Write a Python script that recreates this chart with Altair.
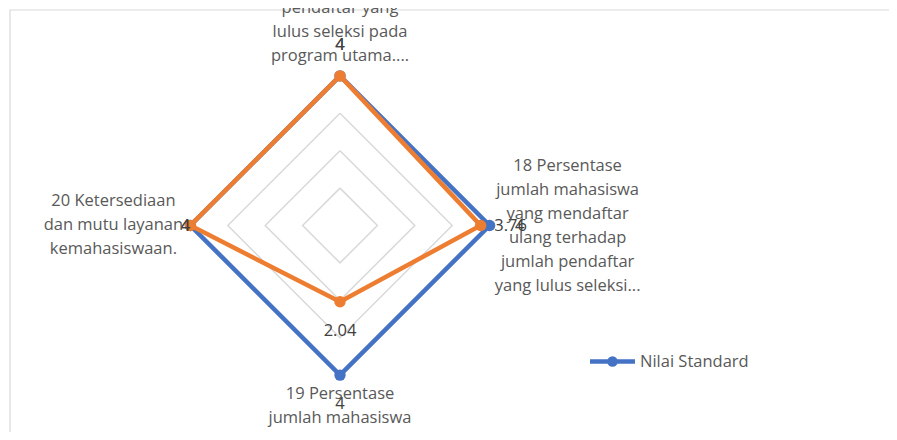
import altair as alt
import pandas as pd

# ---------------- data ----------------
categories = [
    "pendaftar yang\nlulus seleksi pada\nprogram utama....",
    "18 Persentase\njumlah mahasiswa\nyang mendaftar\nulang terhadap\njumlah pendaftar\nyang lulus seleksi...",
    "19 Persentase\njumlah mahasiswa\nasing terhadap",
    "20 Ketersediaan\ndan mutu layanan\nkemahasiswaan.",
]
series_names = ["Nilai Standard", "Nilai Capaian"]
nilai_standard = [4, 4, 4, 4]
nilai_capaian = [4, 3.76, 2.04, 4]
grid_levels = [1, 2, 3, 4]

BLUE = "#4472C4"
ORANGE = "#ED7D31"
FONT = "Open Sans"

# ---------------- tables built from the arrays ----------------
n = len(categories)
rows = []
for name, vals in zip(series_names, [nilai_standard, nilai_capaian]):
    for k in range(n + 1):
        rows.append({"series": name, "i": k % n, "o": k, "v": vals[k % n],
                     "lab": vals[k % n], "closing": k == n})
df_series = pd.DataFrame(rows)

grid_rows = []
for lv in grid_levels:
    for k in range(n + 1):
        grid_rows.append({"level": lv, "i": k % n, "o": k, "v": lv})
df_grid = pd.DataFrame(grid_rows)

df_cat = pd.DataFrame({"i": list(range(n)), "txt": categories, "v": [grid_levels[-1]] * n})
df_legend = pd.DataFrame({"series": [series_names[0]]})

# ---------------- layout ----------------
W, H = 881, 424
K = 37.4            # px per unit
CX, CY = 332, 217.5  # centre in chart pixels
xdom = [-CX / K, (W - CX) / K]
ydom = [-(H - CY) / K, CY / K]

xs = alt.Scale(domain=xdom, nice=False, zero=False)
ys = alt.Scale(domain=ydom, nice=False, zero=False)

def polar(ch):
    return ch.transform_calculate(
        px="datum.v * sin(datum.i * PI / 2)",
        py="datum.v * cos(datum.i * PI / 2)",
    )

X = alt.X("px:Q", scale=xs, axis=None)
Y = alt.Y("py:Q", scale=ys, axis=None)

# frame
frame = alt.Chart(df_legend).mark_rect(fill=None, stroke="#d9d9d9", strokeWidth=1.2).encode(
    x=alt.value(2), x2=alt.value(1200), y=alt.value(2), y2=alt.value(431)
)

grid = polar(alt.Chart(df_grid)).mark_line(color="#d9d9d9", strokeWidth=1.5).encode(
    x=X, y=Y, detail="level:N", order="o:Q"
)

layers = [frame, grid]
for name, col in zip(series_names, [BLUE, ORANGE]):
    base = polar(alt.Chart(df_series)).transform_filter(alt.datum.series == name)
    layers.append(base.mark_line(color=col, strokeWidth=4.5).encode(x=X, y=Y, order="o:Q"))
    layers.append(base.transform_filter("!datum.closing").mark_point(
        filled=True, color=col, opacity=1, size=130, shape="circle").encode(x=X, y=Y))

# data labels
offsets = {0: dict(dy=-30.5), 1: dict(dx=30), 2: dict(dy=29), 3: dict(dx=-5)}
for idx, off in offsets.items():
    lab = polar(alt.Chart(df_series)).transform_filter(
        f"datum.i == {idx} && !datum.closing"
    ).transform_calculate(t="toString(datum.lab)")
    layers.append(lab.mark_text(font=FONT, fontSize=16.5, color="#404040",
                                align="center", baseline="middle", **off).encode(
        x=X, y=Y, text="t:N"))

# category labels (offset places the first line)
cat_off = {0: dict(dy=-67.5), 1: dict(dx=78, dy=-59.5), 2: dict(dy=19), 3: dict(dx=-77, dy=-24.5)}
for idx, off in cat_off.items():
    c = polar(alt.Chart(df_cat)).transform_filter(f"datum.i == {idx}")
    layers.append(c.mark_text(font=FONT, fontSize=16.5, color="#595959", lineBreak="\n",
                              lineHeight=24, align="center", baseline="middle", **off).encode(
        x=X, y=Y, text="txt:N"))

# legend (only first entry visible)
leg_line = alt.Chart(df_legend).mark_rule(color=BLUE, strokeWidth=4.5).encode(
    x=alt.value(582), x2=alt.value(627), y=alt.value(353.5))
leg_pt = alt.Chart(df_legend).mark_point(filled=True, color=BLUE, opacity=1, size=110,
                                         shape="circle").encode(
    x=alt.value(604.5), y=alt.value(353.5))
leg_txt = alt.Chart(df_legend).mark_text(font=FONT, fontSize=16.5, color="#595959",
                                         align="left", baseline="middle").encode(
    x=alt.value(632), y=alt.value(353.5), text="series:N")
layers += [leg_line, leg_pt, leg_txt]

chart = alt.layer(*layers).properties(
    width=W, height=H, padding=0, autosize=alt.AutoSizeParams(type="none")
).configure_view(stroke=None)

chart.save("out.html", embed_options={"renderer": "svg", "actions": False})
